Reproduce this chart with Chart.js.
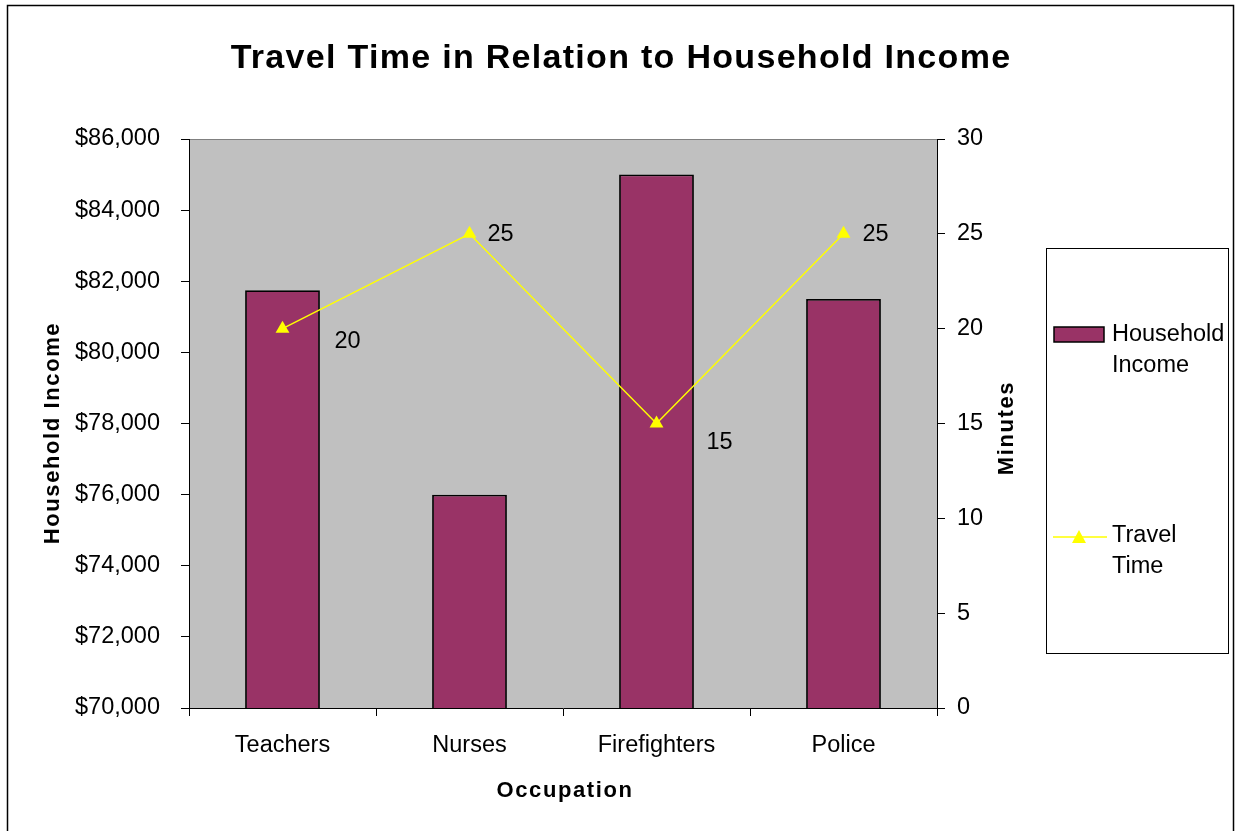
<!DOCTYPE html>
<html>
<head>
<meta charset="utf-8">
<script src="https://cdn.jsdelivr.net/npm/chart.js@4.4.1/dist/chart.umd.min.js"></script>
<style>
  html, body { margin: 0; padding: 0; background: #fff; }
  #wrap { position: relative; width: 1235px; height: 831px; }
</style>
</head>
<body>
<div id="wrap"><canvas id="grafico" width="1235" height="831"></canvas></div>
<script>
// datos del grafico
const occupations = ['Teachers', 'Nurses', 'Firefighters', 'Police'];
const householdIncome = [81750, 76000, 85000, 81500];
const travelTime = [20, 25, 15, 25];
const incomeRange = [70000, 86000];
const minutesRange = [0, 30];

const FONT = "'Liberation Sans', Arial, sans-serif";
Chart.defaults.font.family = FONT;
Chart.defaults.color = '#000';

// texto extra: titulo, titulos de ejes, etiquetas, leyenda y bordes
const decoracion = {
    id: 'decoracion',
    beforeDraw(chart) {
        const { ctx, chartArea: a } = chart;
        ctx.save();
        ctx.fillStyle = '#C0C0C0';
        ctx.fillRect(a.left, a.top, a.right - a.left, a.bottom - a.top);
        ctx.strokeStyle = '#808080';
        ctx.lineWidth = 1;
        ctx.beginPath();
        ctx.moveTo(a.left, a.top + 0.5);
        ctx.lineTo(a.right, a.top + 0.5);
        ctx.stroke();
        ctx.restore();
    },
    afterDraw(chart) {
        const { ctx } = chart;
        ctx.save();

        // marco exterior
        ctx.strokeStyle = '#000';
        ctx.lineWidth = 1.5;
        ctx.strokeRect(7.5, 5.5, 1226, 840);

        // titulo
        ctx.fillStyle = '#000';
        ctx.textAlign = 'center';
        ctx.textBaseline = 'alphabetic';
        ctx.font = 'bold 34px ' + FONT;
        ctx.letterSpacing = '1.3px';
        ctx.fillText('Travel Time in Relation to Household Income', 621, 68);

        // titulos de ejes
        ctx.font = 'bold 22px ' + FONT;
        ctx.letterSpacing = '1.6px';
        ctx.fillText('Occupation', 565, 797);

        ctx.save();
        ctx.translate(59, 433);
        ctx.rotate(-Math.PI / 2);
        ctx.fillText('Household Income', 0, 0);
        ctx.restore();

        ctx.save();
        ctx.translate(1013, 428);
        ctx.rotate(-Math.PI / 2);
        ctx.fillText('Minutes', 0, 0);
        ctx.restore();

        // etiquetas de la linea
        ctx.letterSpacing = '0px';
        ctx.font = '23.5px ' + FONT;
        ctx.textBaseline = 'middle';
        const offs = [[65, 13], [31, 1], [63, 19], [32, 1]];
        const meta = chart.getDatasetMeta(0);
        meta.data.forEach((p, i) => {
            ctx.fillText(String(travelTime[i]), p.x + offs[i][0], p.y + offs[i][1]);
        });

        // leyenda
        ctx.strokeStyle = '#000';
        ctx.lineWidth = 1;
        ctx.strokeRect(1046.5, 248.5, 182, 405);

        ctx.fillStyle = '#993366';
        ctx.fillRect(1054, 327, 50, 15);
        ctx.lineWidth = 1.5;
        ctx.strokeRect(1054, 327, 50, 15);

        ctx.strokeStyle = '#FFFF00';
        ctx.lineWidth = 1.5;
        ctx.beginPath();
        ctx.moveTo(1053, 537);
        ctx.lineTo(1107, 537);
        ctx.stroke();
        ctx.fillStyle = '#FFFF00';
        ctx.beginPath();
        ctx.moveTo(1079, 530);
        ctx.lineTo(1086, 543);
        ctx.lineTo(1072, 543);
        ctx.closePath();
        ctx.fill();

        ctx.fillStyle = '#000';
        ctx.textAlign = 'left';
        ctx.textBaseline = 'alphabetic';
        ctx.fillText('Household', 1112, 341);
        ctx.fillText('Income', 1112, 372);
        ctx.fillText('Travel', 1112, 542);
        ctx.fillText('Time', 1112, 573);

        ctx.restore();
    }
};

const ctxGrafico = document.getElementById('grafico').getContext('2d');
new Chart(ctxGrafico, {
    type: 'bar',
    data: {
        labels: occupations,
        datasets: [
            {
                type: 'line',
                label: 'Travel Time',
                data: travelTime,
                yAxisID: 'y2',
                borderColor: '#FFFF00',
                borderWidth: 1.5,
                backgroundColor: '#FFFF00',
                pointStyle: 'triangle',
                pointRadius: 8,
                pointBorderWidth: 0,
                tension: 0,
                order: 0
            },
            {
                label: 'Household Income',
                data: householdIncome,
                yAxisID: 'y',
                backgroundColor: '#993366',
                borderColor: '#000',
                borderWidth: 1.8,
                barPercentage: 0.4,
                categoryPercentage: 1,
                order: 1
            }
        ]
    },
    options: {
        responsive: false,
        animation: false,
        layout: { padding: { top: 139, bottom: 53, left: 0, right: 198 } },
        plugins: {
            legend: { display: false },
            title: { display: false },
            tooltip: { enabled: false }
        },
        scales: {
            x: {
                afterFit: s => { s.height = 70; },
                grid: { drawOnChartArea: false, tickLength: 8, color: '#000' },
                border: { display: true, color: '#000', width: 1 },
                ticks: { font: { size: 23.5 }, padding: 15, color: '#000' }
            },
            y: {
                position: 'left',
                min: incomeRange[0],
                max: incomeRange[1],
                afterFit: s => { s.width = 189; },
                grid: { drawOnChartArea: false, tickLength: 8, color: '#000' },
                border: { display: true, color: '#000', width: 1 },
                ticks: {
                    stepSize: 2000,
                    padding: 21,
                    font: { size: 23.5 },
                    color: '#000',
                    callback: v => '$' + v.toLocaleString('en-US')
                }
            },
            y2: {
                position: 'right',
                min: minutesRange[0],
                max: minutesRange[1],
                afterFit: s => { s.width = 100; },
                grid: { drawOnChartArea: false, tickLength: 8, color: '#000' },
                border: { display: true, color: '#000', width: 1 },
                ticks: { stepSize: 5, padding: 12, font: { size: 23.5 }, color: '#000' }
            }
        }
    },
    plugins: [decoracion]
});
</script>
</body>
</html>
